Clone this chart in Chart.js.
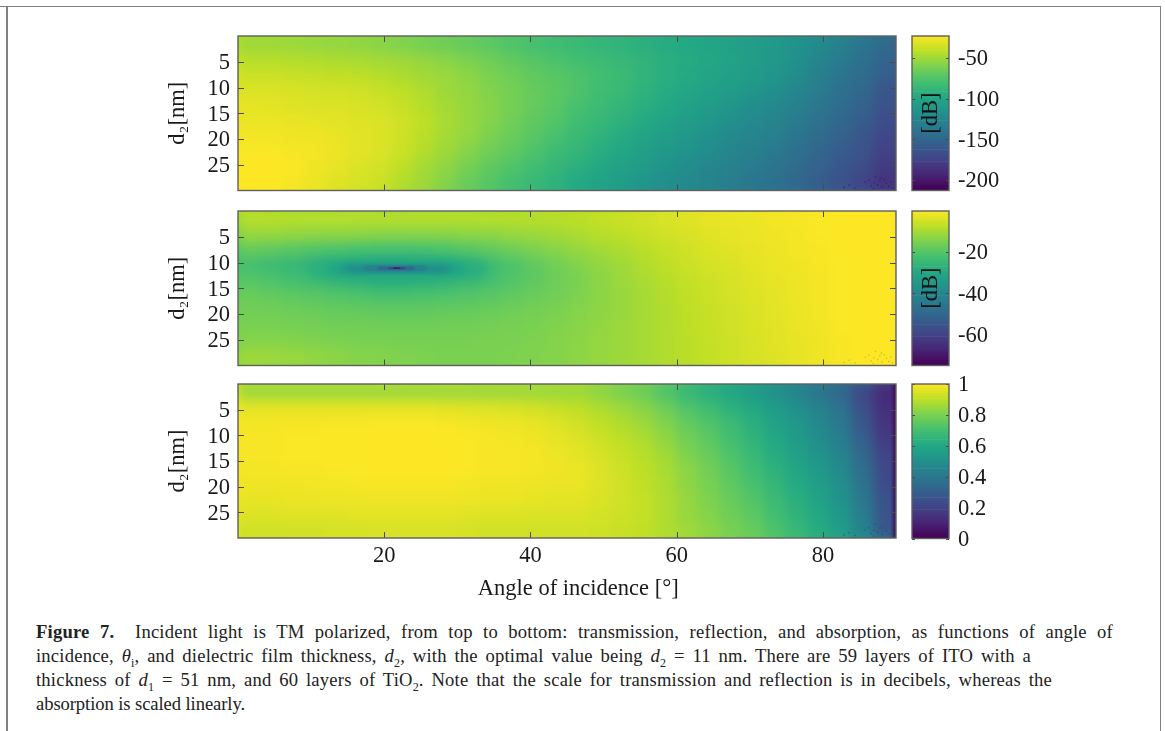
<!DOCTYPE html>
<html><head><meta charset="utf-8">
<script src="https://cdn.jsdelivr.net/npm/chart.js@4"></script>
<style>
html,body{margin:0;padding:0;background:#fff;width:1165px;height:731px;overflow:hidden}
canvas{position:absolute;display:block}
.rule{position:absolute;background:#808080}
.cap{position:absolute;left:36px;white-space:nowrap;font:18.6px/24px "Liberation Serif",serif;color:#222}
.cap sub{font-size:12px;line-height:0}
.dB{position:absolute;font:22.5px/24px "Liberation Serif",serif;color:#111;transform:translate(-50%,-50%) rotate(-90deg);white-space:nowrap}
</style></head><body>
<div class="rule" style="left:0;top:6px;width:1161px;height:1.4px"></div>
<div class="rule" style="left:6px;top:6px;width:1.6px;height:725px"></div>
<div class="rule" style="left:1159.5px;top:6px;width:1.6px;height:725px"></div>
<canvas id="p1" style="left:160px;top:26px"></canvas>
<canvas id="p2" style="left:160px;top:201px"></canvas>
<canvas id="p3" style="left:160px;top:374px"></canvas>
<canvas id="c1" style="left:905px;top:26px"></canvas>
<canvas id="c2" style="left:905px;top:201px"></canvas>
<canvas id="c3" style="left:905px;top:374px"></canvas>
<div class="dB" style="left:930px;top:113px">[dB]</div>
<div class="dB" style="left:930px;top:288px">[dB]</div>
<div class="cap" data-w="1077" style="top:620px"><b>Figure 7.</b>&nbsp; Incident light is TM polarized, from top to bottom: transmission, reflection, and absorption, as functions of angle of</div>
<div class="cap" data-w="995" style="top:644px">incidence, <i>θ</i><sub>i</sub>, and dielectric film thickness, <i>d</i><sub>2</sub>, with the optimal value being <i>d</i><sub>2</sub> = 11 nm. There are 59 layers of ITO with a</div>
<div class="cap" data-w="1016" style="top:668px">thickness of <i>d</i><sub>1</sub> = 51 nm, and 60 layers of TiO<sub>2</sub>. Note that the scale for transmission and reflection is in decibels, whereas the</div>
<div class="cap" data-w="209" style="top:692px">absorption is scaled linearly.</div>
<script>
// Column centres: angle of incidence in degrees
const angles=[1.5,4.5,7.5,10.5,13.5,16.5,19.5,22.5,25.5,28.5,31.5,34.5,37.5,40.5,43.5,46.5,49.5,52.5,55.5,58.5,61.5,64.5,67.5,70.5,73.5,76.5,79.5,82.5,85.5,88.5];
// Row spans: d2 in nm
const d2Starts=[0,3,6,9,12,15,18,21,24,27];
const d2Span=3;
const xTickValues=[20,40,60,80];
const yTickValues=[5,10,15,20,25];

const transmissionDb=[
[-51,-51,-52,-53,-54,-55,-57,-60,-63,-66,-69,-72,-76,-80,-83,-86,-89,-91,-94,-97,-99,-102,-105,-108,-111,-116,-123,-131,-139,-148],
[-44,-44,-45,-46,-47,-48,-50,-51,-54,-57,-61,-65,-70,-74,-78,-81,-84,-87,-90,-94,-97,-100,-104,-108,-112,-118,-127,-135,-143,-152],
[-38,-38,-39,-40,-41,-42,-44,-47,-50,-52,-56,-61,-65,-70,-73,-77,-81,-85,-90,-94,-98,-102,-106,-110,-115,-122,-131,-139,-146,-156],
[-33,-33,-34,-35,-36,-37,-39,-42,-46,-51,-54,-59,-63,-68,-72,-77,-82,-86,-91,-96,-101,-105,-109,-114,-119,-126,-134,-143,-150,-162],
[-30,-31,-32,-33,-33,-34,-36,-39,-44,-49,-53,-58,-63,-68,-73,-79,-84,-89,-94,-99,-105,-109,-114,-120,-125,-130,-138,-146,-154,-165],
[-28,-28,-29,-30,-31,-32,-33,-37,-42,-48,-53,-58,-64,-70,-75,-82,-87,-92,-98,-104,-108,-113,-119,-124,-128,-135,-142,-150,-158,-169],
[-26,-26,-27,-27,-29,-31,-33,-37,-43,-49,-54,-61,-67,-73,-79,-86,-91,-97,-103,-108,-113,-118,-124,-128,-132,-139,-147,-154,-162,-173],
[-24,-24,-25,-26,-28,-31,-33,-38,-45,-51,-58,-65,-71,-77,-84,-89,-95,-101,-107,-112,-117,-122,-127,-131,-136,-143,-151,-158,-165,-177],
[-23,-23,-24,-27,-30,-33,-36,-42,-49,-55,-63,-70,-76,-82,-88,-94,-100,-106,-110,-116,-121,-126,-130,-135,-140,-147,-154,-162,-169,-181],
[-23,-23,-25,-28,-32,-35,-38,-45,-51,-59,-67,-74,-81,-87,-92,-99,-105,-109,-115,-120,-125,-129,-134,-139,-144,-150,-158,-165,-175,-186]
];
const reflectionDb=[
[-8.2,-8.2,-8.6,-8.6,-8.6,-8.6,-8.6,-8.6,-8.6,-8.6,-8.6,-8.6,-8.6,-8.6,-8.2,-7.8,-7.1,-6.3,-5.6,-4.5,-3.7,-3,-2.6,-2.3,-1.5,-1.1,-0.8,-0.4,-0.4,-0.4],
[-12.3,-12.3,-12.7,-13,-13,-13.4,-13.8,-13.8,-13.8,-13.8,-13.4,-13,-12.3,-11.5,-10.8,-9.7,-8.6,-7.8,-6.7,-5.6,-4.9,-3.7,-3,-2.6,-1.9,-1.5,-0.8,-0.4,-0.4,-0.4],
[-18.2,-19,-20.1,-21.2,-22,-22.7,-23.1,-23.1,-22.7,-22,-20.5,-19,-17.1,-15.3,-13.8,-12.3,-10.8,-9.7,-8.2,-7.1,-5.6,-4.5,-3.7,-3,-2.3,-1.5,-1.1,-0.4,-0.4,-0.4],
[-22.7,-24.2,-25.7,-27.1,-28.6,-30.1,-31.6,-31.6,-30.9,-29.4,-27.1,-24.2,-21.6,-19,-16.7,-14.5,-12.7,-11.2,-9.3,-7.8,-6.3,-5.2,-4.5,-3.4,-2.6,-1.9,-1.1,-0.8,-0.4,-0.4],
[-20.1,-21.2,-22.7,-23.8,-25.7,-27.1,-28.6,-28.6,-27.9,-26.4,-24.6,-22.7,-20.8,-19,-17.1,-15.3,-13.4,-11.5,-10,-8.6,-7.1,-6,-4.9,-3.7,-3,-2.3,-1.5,-0.8,-0.4,-0.4],
[-17.5,-18.2,-19,-19.7,-20.5,-21.2,-22,-22,-21.6,-21.2,-20.5,-19.7,-18.6,-17.5,-16.4,-14.9,-13.4,-11.9,-10.4,-8.9,-7.5,-6.3,-5.2,-4.1,-3.4,-2.3,-1.5,-0.8,-0.4,-0.4],
[-16.4,-16.7,-17.1,-17.5,-17.9,-18.2,-18.6,-18.6,-18.6,-18.2,-17.9,-17.5,-16.7,-16,-15.3,-14.1,-13,-11.9,-10.4,-9.3,-7.8,-6.7,-5.6,-4.5,-3.4,-2.6,-1.5,-0.8,-0.4,-0.4],
[-15.3,-15.3,-15.6,-16,-16.4,-16.4,-16.7,-16.7,-16.7,-16.4,-16.4,-16,-15.6,-15.3,-14.5,-13.8,-12.7,-11.5,-10.4,-9.3,-7.8,-6.7,-5.6,-4.5,-3.7,-2.6,-1.9,-0.8,-0.4,-0.4],
[-13.8,-13.8,-14.1,-14.5,-14.9,-15.3,-15.3,-15.6,-15.6,-15.6,-15.6,-15.3,-15.3,-14.9,-14.1,-13.4,-12.3,-11.5,-10.4,-9.3,-8.2,-7.1,-6,-4.9,-3.7,-3,-1.9,-1.1,-0.4,-0.4],
[-10.8,-11.2,-11.5,-12.3,-13,-13.8,-14.1,-14.5,-14.9,-15.3,-15.3,-15.3,-14.9,-14.5,-14.1,-13.4,-12.3,-11.5,-10.4,-9.3,-8.2,-7.1,-6,-4.9,-4.1,-3,-1.9,-1.1,-0.4,-0.4]
];
const absorption=[
[.85,.85,.85,.85,.85,.85,.85,.85,.85,.85,.85,.85,.85,.85,.85,.85,.83,.80,.77,.72,.665,.625,.585,.545,.495,.445,.385,.33,.21,.12],
[.96,.96,.96,.96,.96,.96,.96,.96,.96,.955,.95,.945,.94,.93,.915,.90,.875,.85,.82,.775,.72,.68,.635,.595,.545,.495,.435,.37,.24,.13],
[.985,.985,.99,.99,.99,.99,.995,.995,.995,.99,.985,.98,.975,.965,.95,.93,.905,.88,.85,.81,.76,.72,.675,.625,.575,.525,.465,.40,.27,.15],
[.99,.99,.995,.995,1,1,1,1,1,1,.995,.99,.985,.98,.965,.95,.925,.90,.875,.835,.785,.745,.695,.645,.595,.545,.485,.42,.30,.17],
[.99,.99,.995,.995,1,1,1,1,1,1,.995,.99,.99,.985,.975,.96,.94,.915,.89,.855,.805,.765,.715,.665,.615,.565,.51,.445,.33,.20],
[.985,.985,.99,.99,.995,.995,1,1,1,1,.995,.99,.99,.985,.98,.97,.95,.925,.90,.87,.825,.785,.735,.685,.635,.585,.535,.47,.36,.22],
[.98,.98,.98,.985,.985,.99,.99,.99,.99,.99,.985,.98,.98,.975,.97,.97,.95,.93,.905,.875,.83,.795,.75,.705,.655,.605,.555,.49,.38,.23],
[.965,.965,.97,.97,.975,.975,.98,.98,.98,.98,.975,.97,.97,.965,.96,.96,.945,.93,.91,.88,.84,.805,.765,.725,.675,.625,.575,.51,.40,.25],
[.95,.95,.955,.955,.955,.96,.96,.96,.96,.96,.955,.95,.95,.945,.945,.945,.935,.925,.91,.88,.845,.815,.78,.745,.695,.645,.595,.53,.42,.26],
[.925,.925,.93,.93,.935,.935,.94,.94,.94,.94,.935,.93,.93,.93,.93,.93,.925,.915,.905,.88,.855,.825,.795,.765,.715,.665,.615,.55,.44,.27]
];
// Reflection minimum near 21.7 deg, 11.1 nm: nested levels from outside to core
const dipStartAngle=[11,13,14.5,15.5,17.5,19.3,20.7,21.3];
const dipEndAngle=[33,30.5,29,28,25.5,24,22.8,22.1];
const dipD2=[11.4,11.3,11.2,11.2,11.1,11.1,11.1,11.1];
const dipDb=[-27.9,-30.9,-34.6,-38.3,-43.5,-51.7,-59.8,-71];
// Absorption falls to nothing at grazing incidence
const edgeAngle=[89.8,89.8];
const edgeD2=[0,30];
const edgeValue=.02;
// Numerical speckle in the bottom right corner
const speckAngle=[82.9,83.6,84.4,85.8,86.3,86.6,87.0,87.2,87.5,87.8,88.1,88.4,88.7,89.0,89.3,89.5,86.9,88.0];
const speckD2=[29.4,29.0,29.5,28.4,28.0,29.1,28.5,27.3,28.9,28.1,29.3,27.9,28.6,29.2,28.3,29.5,29.6,27.6];
const tTicks=[-50,-100,-150,-200];
const rTicks=[-20,-40,-60];
const aTicks=[1,.8,.6,.4,.2,0];

const VIRIDIS=[[68,1,84],[72,36,117],[65,68,135],[53,95,141],[42,120,142],[33,145,140],[34,168,132],[68,191,112],[122,209,81],[189,223,38],[253,231,37]];
function colour(c){c=Math.max(0,Math.min(1,c))*10;const i=Math.min(9,Math.floor(c)),f=c-i,a=VIRIDIS[i],b=VIRIDIS[i+1];
  return `rgb(${a.map((v,k)=>Math.round(v+(b[k]-v)*f)).join(',')})`;}
const SERIF='"Liberation Serif",serif', TICKPX=22.5;

const framePlugin={id:'frame',afterDraw(ch,_,o){
  const {left,right,top,bottom}=ch.chartArea,ctx=ch.ctx;
  ctx.save();ctx.strokeStyle='#4a4a4a';ctx.lineWidth=1;ctx.beginPath();
  if(o.tx) ch.scales.x.ticks.forEach(t=>{const p=Math.round(ch.scales.x.getPixelForValue(t.value))+.5;
    ctx.moveTo(p,top);ctx.lineTo(p,top+o.tx);ctx.moveTo(p,bottom);ctx.lineTo(p,bottom-o.tx);});
  ch.scales.y.ticks.forEach(t=>{const p=Math.round(ch.scales.y.getPixelForValue(t.value))+.5;
    ctx.moveTo(left,p);ctx.lineTo(left+o.ty,p);ctx.moveTo(right,p);ctx.lineTo(right-o.ty,p);});
  ctx.stroke();ctx.lineWidth=1.4;ctx.strokeStyle='#5f5f5f';ctx.strokeRect(left,top,right-left,bottom-top);ctx.restore();}};
const smoothPlugin={id:'smooth',
  beforeDatasetDraw(ch,a){const b=ch.data.datasets[a.index].softBlur;if(b){ch.ctx.save();ch.ctx.filter=`blur(${b}px)`;}},
  afterDatasetDraw(ch,a,o){
    if(ch.data.datasets[a.index].softBlur){ch.ctx.restore();return;}
    if(!o.radius||a.index!==0) return;
    const {left,top,width,height}=ch.chartArea,p=24,r=o.radius;
    const off=document.createElement('canvas');off.width=width+2*p;off.height=height+2*p;
    const c=off.getContext('2d');
    c.drawImage(ch.canvas,left,top,width,height,0,0,off.width,off.height);
    c.drawImage(ch.canvas,left,top,width,height,p,p,width,height);
    const ctx=ch.ctx;ctx.save();ctx.beginPath();ctx.rect(left,top,width,height);ctx.clip();
    ctx.filter=`blur(${r}px)`;ctx.drawImage(off,left-p,top-p);ctx.restore();}};

function panel(id,rows,lo,hi,extra,speck,bottomH,xLabels){
  const datasets=rows.map((vals,r)=>({type:'bar',order:10,
    data:angles.map((x,i)=>({x,y:[d2Starts[r],d2Starts[r]+d2Span]})),
    backgroundColor:vals.map(v=>colour((v-lo)/(hi-lo))),
    borderWidth:0,grouped:false,barPercentage:1,categoryPercentage:1}));
  extra.forEach(d=>datasets.push(d));
  datasets.push({type:'scatter',order:1,data:speckAngle.map((x,i)=>({x,y:speckD2[i]})),
    pointRadius:.8,pointBorderWidth:0,pointBackgroundColor:speck,softBlur:.3});
  const h=bottomH+154.5+10;
  const cv=document.getElementById(id);cv.width=745;cv.height=h;
  return new Chart(cv,{data:{datasets},plugins:[smoothPlugin,framePlugin],options:{
    responsive:false,animation:false,events:[],
    layout:{padding:{top:10,right:9,left:0,bottom:0}},
    plugins:{legend:{display:false},tooltip:{enabled:false},title:{display:false},
      frame:{tx:6,ty:6},smooth:{radius:6}},
    scales:{
      x:{type:'linear',offset:false,min:0,max:90,grid:{display:false,drawTicks:false},border:{display:false},
        afterBuildTicks:s=>{s.ticks=xTickValues.map(value=>({value}));},
        afterFit:s=>{s.height=bottomH;s.paddingLeft=0;s.paddingRight=0;},
        ticks:{display:xLabels,autoSkip:false,maxRotation:0,padding:5,color:'#1a1a1a',font:{family:SERIF,size:TICKPX}},
        title:{display:xLabels,text:'    Angle of incidence [°]',color:'#1a1a1a',font:{family:SERIF,size:TICKPX},padding:{top:4,bottom:3}}},
      y:{type:'linear',reverse:true,min:0,max:30,grid:{display:false,drawTicks:false},border:{display:false},
        afterBuildTicks:s=>{s.ticks=yTickValues.map(value=>({value}));},
        afterFit:s=>{s.width=78;s.paddingTop=0;s.paddingBottom=0;},
        ticks:{padding:8,labelOffset:1.5,autoSkip:false,color:'#1a1a1a',font:{family:SERIF,size:TICKPX}},
        title:{display:true,text:'d₂[nm]',color:'#1a1a1a',font:{family:SERIF,size:TICKPX},padding:{top:5,bottom:0}}}
    }}});
}
function colourbar(id,lo,hi,ticks,fmt){
  const n=64,datasets=[];
  for(let i=0;i<n;i++){datasets.push({type:'bar',data:[[lo+(hi-lo)*i/n,lo+(hi-lo)*(i+1)/n]],
    backgroundColor:colour((i+.5)/n),borderWidth:0,grouped:false,barPercentage:1,categoryPercentage:1});}
  const cv=document.getElementById(id);cv.width=110;cv.height=175;
  return new Chart(cv,{data:{labels:[''],datasets},plugins:[framePlugin],options:{
    responsive:false,animation:false,events:[],
    layout:{padding:{top:10,left:7,right:0,bottom:0}},
    plugins:{legend:{display:false},tooltip:{enabled:false},frame:{tx:0,ty:3}},
    scales:{
      x:{display:true,grid:{display:false,drawTicks:false},border:{display:false},ticks:{display:false},afterFit:s=>{s.height=10.5;s.paddingLeft=0;s.paddingRight=0;}},
      y:{type:'linear',position:'right',min:lo,max:hi,grid:{display:false,drawTicks:false},border:{display:false},
        afterBuildTicks:s=>{s.ticks=ticks.map(value=>({value}));},
        afterFit:s=>{s.width=66;s.paddingTop=0;s.paddingBottom=0;},
        ticks:{padding:9,labelOffset:1.5,autoSkip:false,color:'#1a1a1a',font:{family:SERIF,size:TICKPX},callback:fmt}}
    }}});
}
const dipWidths=[17,12,9,6.5,4.5,3,2,1.4],dipBlur=[4,3,2.5,2,1.5,1,.7,.4];
const dipLines=dipDb.map((v,i)=>({type:'line',order:9-i,
  data:[{x:dipStartAngle[i],y:dipD2[i]},{x:dipEndAngle[i],y:dipD2[i]}],
  borderColor:colour((v+74.7)/74.3),borderWidth:dipWidths[i],borderCapStyle:'round',pointRadius:0,tension:0,softBlur:dipBlur[i]}));
const edgeLine=[{type:'line',order:5,data:edgeAngle.map((x,i)=>({x,y:edgeD2[i]})),
  borderColor:colour(edgeValue),borderWidth:3,pointRadius:0,tension:0,softBlur:1.5}];

const plain=v=>String(v);
panel('p1',transmissionDb,-213,-23,[], 'rgba(60,30,110,.9)',10.5,false);
panel('p2',reflectionDb,-74.7,-0.4,dipLines,'rgba(190,190,50,.9)',10.5,false);
panel('p3',absorption,0,1,edgeLine,'rgba(40,80,130,.8)',68,true);
colourbar('c1',-213,-23,tTicks,plain);
colourbar('c2',-74.7,-0.4,rTicks,plain);
colourbar('c3',0,1,aTicks,plain);

document.querySelectorAll('.cap').forEach(el=>{
  const target=+el.dataset.w,w=el.getBoundingClientRect().width;
  const txt=el.textContent,spaces=(txt.match(/[ \u00a0]/g)||[]).length;
  if(target<w){el.style.letterSpacing=((target-w)/txt.length).toFixed(3)+'px';}
  else{const ls=Math.min(.2,(target-w)/txt.length);el.style.letterSpacing=ls.toFixed(3)+'px';
    el.style.wordSpacing=((target-w-ls*txt.length)/spaces).toFixed(3)+'px';}
});
</script>
</body></html>
